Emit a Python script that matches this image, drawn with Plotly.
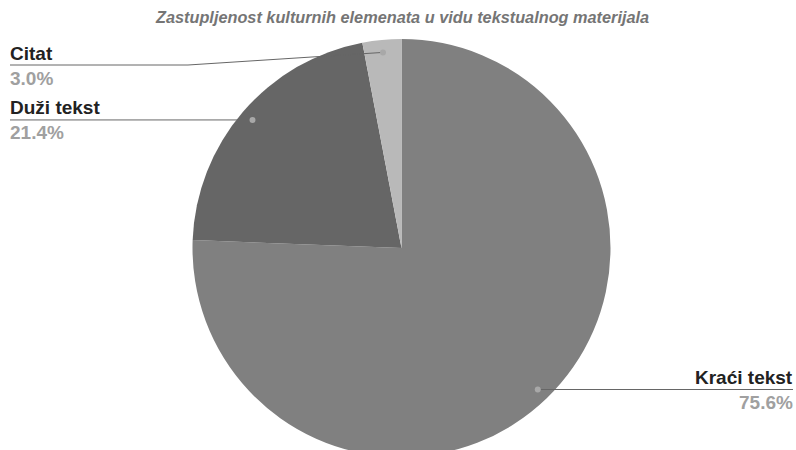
import math
import plotly.graph_objects as go

# ---- data ----
title_text = "Zastupljenost kulturnih elemenata u vidu tekstualnog materijala"
labels = ["Kraći tekst", "Duži tekst", "Citat"]
values = [75.6, 21.4, 3.0]
colors = ["#808080", "#666666", "#b9b9b9"]

# ---- layout constants (pixels) ----
W, H = 796, 460
CX, CY, R = 401.5, 248.0, 209.0
DOT_FRAC = 0.94
MIN_LABEL_Y = 65
LEFT_X, RIGHT_X = 10, 793
TEXT_PAD = 2
ELBOW_LEFT_X = 188
FONT = "Liberation Sans, Arial, sans-serif"


def px(x):
    return x / W


def py(y):
    return 1 - y / H


fig = go.Figure(go.Pie(
    labels=labels,
    values=values,
    sort=False,
    direction="clockwise",
    rotation=0,
    marker=dict(colors=colors, line=dict(width=0)),
    textinfo="none",
    hoverinfo="label+percent",
    showlegend=False,
    domain=dict(x=[px(CX - R), px(CX + R)], y=[py(CY + R), py(CY - R)]),
))

shapes = []
annotations = []
total = sum(values)
cum = 0.0
for lab, val in zip(labels, values):
    mid = (cum + val / 2) / total * 2 * math.pi
    cum += val
    dx = math.sin(mid) * R * DOT_FRAC
    dy = -math.cos(mid) * R * DOT_FRAC
    dot_x, dot_y = CX + dx, CY + dy
    line_y = max(dot_y, MIN_LABEL_Y)
    right = dot_x > CX
    end_x = RIGHT_X if right else LEFT_X
    pts = [(dot_x, dot_y)]
    if abs(line_y - dot_y) > 0.5:
        pts.append((ELBOW_LEFT_X if not right else W - ELBOW_LEFT_X, line_y))
    pts.append((end_x, line_y))
    path = "M " + " L ".join(f"{px(a)},{py(b)}" for a, b in pts)
    shapes.append(dict(type="path", xref="paper", yref="paper", path=path,
                       line=dict(color="#666666", width=1)))
    shapes.append(dict(type="circle", xref="paper", yref="paper",
                       xsizemode="pixel", ysizemode="pixel",
                       xanchor=px(dot_x), yanchor=py(dot_y),
                       x0=-3, x1=3, y0=-3, y1=3,
                       fillcolor="#a8a8a8", line=dict(width=0)))
    xanchor = "right" if right else "left"
    tx = end_x + TEXT_PAD if right else end_x - TEXT_PAD
    annotations.append(dict(
        x=px(tx), y=py(line_y - 12), xref="paper", yref="paper",
        text=f"<b>{lab}</b>", showarrow=False, xanchor=xanchor, yanchor="middle",
        font=dict(family=FONT, size=19, color="#222222")))
    annotations.append(dict(
        x=px(tx), y=py(line_y + 13), xref="paper", yref="paper",
        text=f"<b>{val:.1f}%</b>", showarrow=False, xanchor=xanchor, yanchor="middle",
        font=dict(family=FONT, size=19, color="#a0a0a0")))

annotations.append(dict(
    x=px(401.5), y=py(17), xref="paper", yref="paper",
    text=f"<b><i>{title_text}</i></b>", showarrow=False,
    xanchor="center", yanchor="middle",
    font=dict(family=FONT, size=16.3, color="#757575")))

fig.update_layout(
    width=W, height=H,
    margin=dict(l=0, r=0, t=0, b=0),
    paper_bgcolor="white",
    plot_bgcolor="white",
    shapes=shapes,
    annotations=annotations,
)

fig.write_html(
    "out.html",
    config={"displayModeBar": False},
    post_script="document.body.style.margin='0';document.body.style.overflow='hidden';",
)
